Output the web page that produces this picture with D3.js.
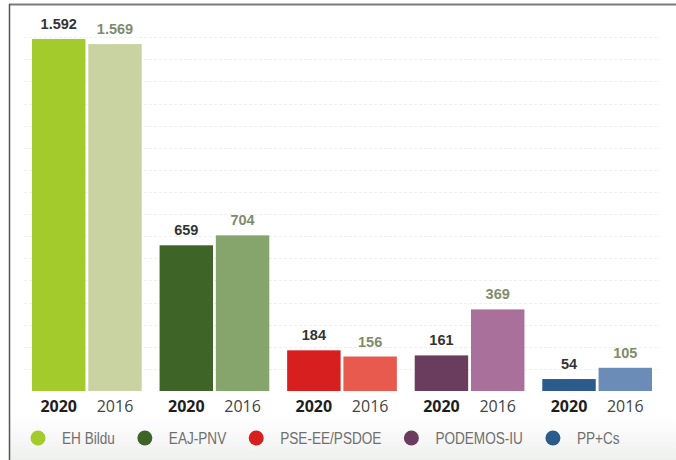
<!DOCTYPE html>
<html>
<head>
<meta charset="utf-8">
<script src="https://cdn.jsdelivr.net/npm/d3@7"></script>
<style>
  body { margin: 0; background: #fff; }
  svg { display: block; }
</style>
</head>
<body>
<div id="chart"></div>
<script>
var parties = ['EH Bildu', 'EAJ-PNV', 'PSE-EE/PSDOE', 'PODEMOS-IU', 'PP+Cs'];
var years = ['2020', '2016'];
var votes2020 = [1592, 659, 184, 161, 54];
var votes2016 = [1569, 704, 156, 369, 105];
var colors2020 = ['#a2cb2b', '#3e6427', '#d81f1f', '#6a3c5e', '#2b5b8b'];
var colors2016 = ['#c9d3a2', '#86a56c', '#e85a4e', '#a8709a', '#6b8cb6'];
var gridTicks = d3.range(100, 1700, 100);

var width = 676, height = 460;
var baseline = 391;

var svg = d3.select('#chart').append('svg')
    .attr('width', width)
    .attr('height', height);

var defs = svg.append('defs');
var grad = defs.append('linearGradient')
    .attr('id', 'foot')
    .attr('x1', 0).attr('y1', 0).attr('x2', 0).attr('y2', 1);
grad.append('stop').attr('offset', '0%').attr('stop-color', '#ffffff');
grad.append('stop').attr('offset', '100%').attr('stop-color', '#eef0ee');

svg.append('rect')
    .attr('x', 10).attr('y', 415)
    .attr('width', width - 10).attr('height', height - 415)
    .attr('fill', 'url(#foot)');

// frame
svg.append('line')
    .attr('x1', 9).attr('x2', width).attr('y1', 4.5).attr('y2', 4.5)
    .attr('stroke', '#7a7a7a').attr('stroke-width', 2);
svg.append('line')
    .attr('x1', 9.5).attr('x2', 9.5).attr('y1', 4).attr('y2', height)
    .attr('stroke', '#555').attr('stroke-width', 1.5);

var y = d3.scaleLinear()
    .domain([0, 1592])
    .range([baseline, 39]);

var x0 = d3.scaleBand()
    .domain(parties)
    .range([32, 652])
    .paddingInner(0.14);

var x1 = d3.scaleBand()
    .domain(years)
    .range([0, x0.bandwidth()])
    .paddingInner(0.05);

// faint dotted grid
svg.append('g')
    .selectAll('line')
    .data(gridTicks)
    .join('line')
    .attr('x1', 24).attr('x2', 660)
    .attr('y1', function (d) { return Math.round(y(d)) + 0.5; })
    .attr('y2', function (d) { return Math.round(y(d)) + 0.5; })
    .attr('stroke', '#efefef')
    .attr('stroke-dasharray', '3,2');

var fmt = d3.formatLocale({ decimal: ',', thousands: '.', grouping: [3], currency: ['', '€'] }).format(',d');

var rows = parties.map(function (p, i) {
    return [
        { party: p, year: '2020', value: votes2020[i], color: colors2020[i] },
        { party: p, year: '2016', value: votes2016[i], color: colors2016[i] }
    ];
});

var groups = svg.append('g')
    .selectAll('g')
    .data(rows)
    .join('g')
    .attr('transform', function (d) { return 'translate(' + x0(d[0].party) + ',0)'; });

groups.selectAll('rect')
    .data(function (d) { return d; })
    .join('rect')
    .attr('x', function (d) { return x1(d.year); })
    .attr('width', x1.bandwidth())
    .attr('y', function (d) { return y(d.value); })
    .attr('height', function (d) { return baseline - y(d.value); })
    .attr('fill', function (d) { return d.color; });

groups.selectAll('text.val')
    .data(function (d) { return d; })
    .join('text')
    .attr('class', 'val')
    .attr('x', function (d) { return x1(d.year) + x1.bandwidth() / 2; })
    .attr('y', function (d) { return y(d.value) - 10; })
    .attr('text-anchor', 'middle')
    .attr('font-family', 'Liberation Sans, Arial, sans-serif')
    .attr('font-weight', 'bold')
    .attr('font-size', 14.5)
    .attr('fill', function (d) { return d.year === '2020' ? '#333' : '#7f8c6c'; })
    .text(function (d) { return fmt(d.value); });

groups.selectAll('text.yr')
    .data(function (d) { return d; })
    .join('text')
    .attr('class', 'yr')
    .attr('x', function (d) { return x1(d.year) + x1.bandwidth() / 2; })
    .attr('y', 412)
    .attr('text-anchor', 'middle')
    .attr('font-family', 'Open Sans, sans-serif')
    .attr('font-weight', function (d) { return d.year === '2020' ? 'bold' : 'normal'; })
    .attr('font-size', 16)
    .attr('fill', function (d) { return d.year === '2020' ? '#1e1e1e' : '#444'; })
    .text(function (d) { return d.year; });

// legend (condensed look via horizontal squeeze)
var legend = svg.append('g');
var squeeze = 0.8;
var lx = 38;
parties.forEach(function (p, i) {
    legend.append('circle')
        .attr('cx', lx).attr('cy', 438).attr('r', 7.5)
        .attr('fill', colors2020[i]);
    var t = legend.append('text')
        .attr('transform', 'translate(' + (lx + 24) + ',444) scale(' + squeeze + ',1)')
        .attr('font-family', 'Liberation Sans, Arial, sans-serif')
        .attr('font-size', 17)
        .attr('fill', '#707070')
        .text(p);
    lx = lx + 24 + t.node().getComputedTextLength() * squeeze + 30;
});
</script>
</body>
</html>
